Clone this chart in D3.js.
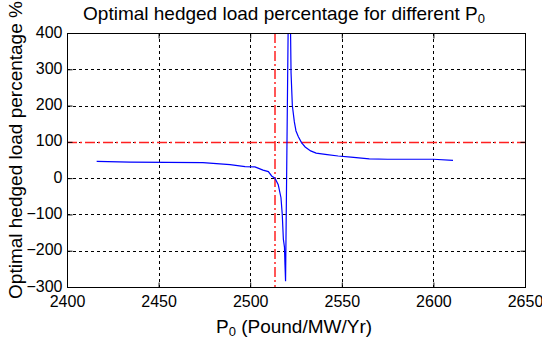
<!DOCTYPE html>
<html>
<head>
<meta charset="utf-8">
<script src="https://cdn.jsdelivr.net/npm/d3@7"></script>
<style>
  body { margin: 0; background: #fff; }
  svg { display: block; font-family: "Liberation Sans", Arial, sans-serif; }
</style>
</head>
<body>
<div id="chart"></div>
<script>
// data
const p0 = [2416.2, 2434.4, 2474.2, 2489, 2497.2, 2502.6, 2507, 2509.9, 2511.7, 2513.5, 2515.3, 2516.8,
  2517.5, 2518.1, 2518.7, 2519.0, 2519.3, 2521.3, 2522.3, 2523.0, 2524.1, 2525, 2526.3, 2528, 2530,
  2533, 2536, 2542, 2548, 2555, 2565, 2575, 2600, 2610.7];
const hedged = [46, 44, 43, 37, 32, 31, 22, 18, 6, 0, -18, -54,
  -100, -168, -190, -240, -284, 700, 290, 200, 155, 130, 114, 98, 86,
  75, 69, 65, 61, 58, 53, 52, 52, 49];
const xTicks = [2400, 2450, 2500, 2550, 2600, 2650];
const yTicks = [-300, -200, -100, 0, 100, 200, 300, 400];
const refX = [2513.5];
const refY = [100];

const width = 542;
const height = 345;
const margin = { top: 33, right: 17, bottom: 58, left: 67 };

const svg = d3.select('#chart').append('svg').attr('width', width).attr('height', height);

const x = d3.scaleLinear().domain([2400, 2650]).range([margin.left, width - margin.right]);
const y = d3.scaleLinear().domain([-300, 400]).range([height - margin.bottom, margin.top]);

svg.append('clipPath').attr('id', 'clip')
  .append('rect')
  .attr('x', x(2400)).attr('y', y(400))
  .attr('width', x(2650) - x(2400)).attr('height', y(-300) - y(400));

/* Grid
=========================================================================*/
const grid = svg.append('g').attr('stroke', '#000').attr('stroke-width', 1).attr('stroke-dasharray', '3,3');

grid.selectAll('.vgrid')
  .data(xTicks.slice(1, -1))
  .enter()
  .append('line')
  .attr('x1', (d) => Math.round(x(d)) + 0.5)
  .attr('x2', (d) => Math.round(x(d)) + 0.5)
  .attr('y1', y(400))
  .attr('y2', y(-300));

grid.selectAll('.hgrid')
  .data(yTicks.slice(1, -1))
  .enter()
  .append('line')
  .attr('y1', (d) => Math.round(y(d)) + 0.5)
  .attr('y2', (d) => Math.round(y(d)) + 0.5)
  .attr('x1', x(2400))
  .attr('x2', x(2650));

// red reference lines (dash-dot)
const ref = svg.append('g').attr('stroke', '#ff2020').attr('stroke-width', 1.3).attr('stroke-dasharray', '10,3,2,3');

ref.selectAll('.rx')
  .data(refX)
  .enter()
  .append('line')
  .attr('x1', (d) => Math.round(x(d)))
  .attr('x2', (d) => Math.round(x(d)))
  .attr('y1', y(400))
  .attr('y2', y(-300))
  .attr('stroke-width', 1.5);

ref.selectAll('.ry')
  .data(refY)
  .enter()
  .append('line')
  .attr('y1', (d) => Math.round(y(d)) + 0.5)
  .attr('y2', (d) => Math.round(y(d)) + 0.5)
  .attr('x1', x(2400))
  .attr('x2', x(2650));

/* Curve
=========================================================================*/
const line = d3.line().x((d, i) => x(p0[i])).y((d) => y(d));

svg.append('path')
  .attr('clip-path', 'url(#clip)')
  .attr('d', line(hedged))
  .attr('fill', 'none')
  .attr('stroke', '#0000ff')
  .attr('stroke-width', 1.2);

/* Axes
=========================================================================*/
const frame = svg.append('g');
frame.append('rect')
  .attr('x', Math.round(x(2400)) + 0.5)
  .attr('y', Math.round(y(400)) + 0.5)
  .attr('width', Math.round(x(2650)) - Math.round(x(2400)))
  .attr('height', Math.round(y(-300)) - Math.round(y(400)))
  .attr('fill', 'none')
  .attr('stroke', '#000');

const fmt = d3.format('d');

const bottomAxis = svg.append('g')
  .attr('transform', `translate(0, ${Math.round(y(-300)) + 0.5})`)
  .call(d3.axisBottom(x).tickValues(xTicks).tickFormat(fmt).tickSizeInner(-5).tickSizeOuter(0));
const topAxis = svg.append('g')
  .attr('transform', `translate(0, ${Math.round(y(400)) + 0.5})`)
  .call(d3.axisTop(x).tickValues(xTicks).tickSizeInner(-5).tickSizeOuter(0).tickFormat(''));
const leftAxis = svg.append('g')
  .attr('transform', `translate(${Math.round(x(2400)) + 0.5}, 0)`)
  .call(d3.axisLeft(y).tickValues(yTicks).tickFormat(fmt).tickSizeInner(-5).tickSizeOuter(0));
const rightAxis = svg.append('g')
  .attr('transform', `translate(${Math.round(x(2650)) + 0.5}, 0)`)
  .call(d3.axisRight(y).tickValues(yTicks).tickSizeInner(-5).tickSizeOuter(0).tickFormat(''));

[bottomAxis, topAxis, leftAxis, rightAxis].forEach((a) => {
  a.select('.domain').remove();
  a.selectAll('line').attr('stroke', '#000');
  a.selectAll('text')
    .attr('fill', '#000')
    .style('font-family', '"Liberation Sans", Arial, sans-serif')
    .style('font-size', '16px');
});
bottomAxis.selectAll('text').attr('y', 8).attr('dy', '0.71em');
leftAxis.selectAll('text').attr('x', -5).attr('dy', '0.25em');

/* Labels
=========================================================================*/
const title = svg.append('text')
  .attr('x', 284)
  .attr('y', 20)
  .attr('text-anchor', 'middle')
  .style('font-size', '19px');
title.append('tspan').text('Optimal hedged load percentage for different P');
title.append('tspan').attr('dy', 3).style('font-size', '13px').text('0');

const xLabel = svg.append('text')
  .attr('x', 294)
  .attr('y', 333)
  .attr('text-anchor', 'middle')
  .style('font-size', '19px');
xLabel.append('tspan').text('P');
xLabel.append('tspan').attr('dy', 3).style('font-size', '13px').text('0');
xLabel.append('tspan').attr('dy', -3).text(' (Pound/MW/Yr)');

svg.append('text')
  .attr('transform', 'translate(22, 150) rotate(-90)')
  .attr('text-anchor', 'middle')
  .style('font-size', '19px')
  .text('Optimal hedged load percentage %');
</script>
</body>
</html>
